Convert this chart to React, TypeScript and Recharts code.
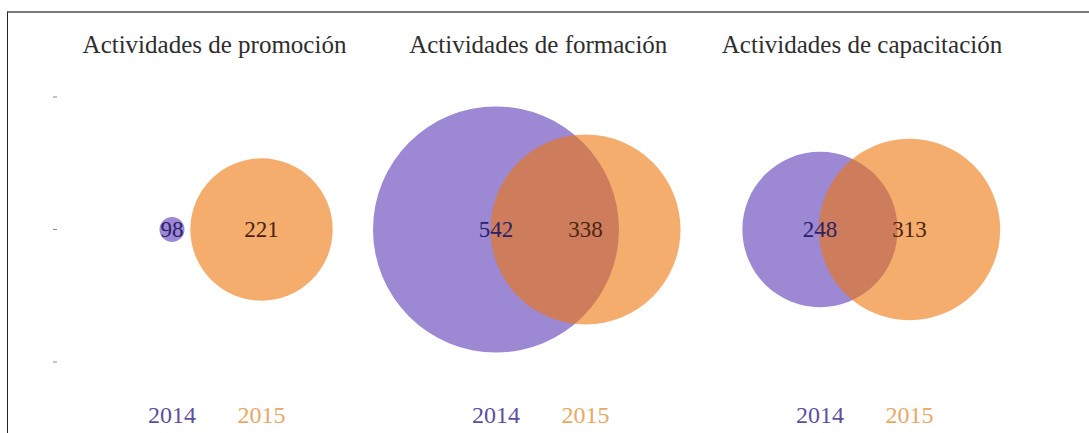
import React from 'react';
import { ScatterChart, Scatter, XAxis, YAxis, ZAxis, Cell, LabelList } from 'recharts';

// datos del gráfico
const groups = ['Actividades de promoción', 'Actividades de formación', 'Actividades de capacitación'];
const years = ['2014', '2015'];
const values2014 = [98, 542, 248];
const values2015 = [221, 338, 313];
const frameTicks = [0, 1, 2];

const seriesValues = [values2014, values2015];
const allValues = [...values2014, ...values2015];
const zDomain = [Math.min(...allValues), Math.max(...allValues)];

// estilos
const FONT = '"Liberation Serif", "Times New Roman", serif';
const bubbleFill = ['#5a38b5', '#ee760e'];
const valueColor = ['#2b2168', '#4a2410'];
const yearColor = ['#5d4f9e', '#e9a866'];

const CHART_W = 400;
const CHART_H = 433;
const PANEL_STEP = 323.75;

// escala de potencia para el área de las burbujas
const makePowScale = (exponent: number, dom: number[] = [0, 1], rng: number[] = [0, 1]): any => {
  const scale: any = (v: number) => {
    const lo = dom[0] ** exponent;
    const t = (v ** exponent - lo) / (dom[1] ** exponent - lo);
    return rng[0] + t * (rng[1] - rng[0]);
  };
  scale.domain = (d?: number[]) => (d ? makePowScale(exponent, d, rng) : dom);
  scale.range = (r?: number[]) => (r ? makePowScale(exponent, dom, r) : rng);
  scale.copy = () => makePowScale(exponent, dom, rng);
  scale.ticks = () => dom;
  return scale;
};

const bubbleScale = makePowScale(0.72);

const renderValueLabel = (props: any) => {
  const { value, index } = props;
  const vb = props.viewBox || props;
  const cx = vb.x + vb.width / 2;
  const cy = vb.y + vb.height / 2;
  return (
    <text
      key={`v-${index}`}
      x={cx}
      y={cy}
      textAnchor="middle"
      dominantBaseline="central"
      fill={valueColor[index]}
      fontSize={23}
      fontFamily={FONT}
    >
      {value}
    </text>
  );
};

const renderYearTick = (props: any) => {
  const { x, y, payload } = props;
  const i = years.indexOf(String(payload.value));
  return (
    <text x={x} y={y} dy="0.71em" textAnchor="middle" fill={yearColor[i]} fontSize={24} fontFamily={FONT}>
      {payload.value}
    </text>
  );
};

const renderNoTick = () => <g />;

const Panel = ({ gi }: { gi: number }) => {
  const data = years.map((year, j) => ({ group: groups[gi], year, value: seriesValues[j][gi] }));

  return (
    <div style={{ position: 'absolute', left: gi * PANEL_STEP, top: 0, width: CHART_W, height: CHART_H }}>
      <div
        style={{
          position: 'absolute',
          left: 14.5,
          top: 30,
          width: 400,
          textAlign: 'center',
          fontFamily: FONT,
          fontSize: 25,
          lineHeight: '30px',
          color: '#2e2e2e',
          whiteSpace: 'nowrap',
          zIndex: 2,
        }}
      >
        {groups[gi]}
      </div>
      <ScatterChart width={CHART_W} height={CHART_H} margin={{ top: 97, right: 93.75, bottom: 0, left: 0 }}>
        <XAxis
          dataKey="year"
          type="category"
          allowDuplicatedCategory={false}
          padding={{ left: 70.25, right: 0 }}
          axisLine={false}
          tickLine={false}
          tickSize={0}
          tickMargin={44}
          height={71}
          interval={0}
          tick={renderYearTick}
        />
        <YAxis
          yAxisId="frame"
          type="number"
          domain={[0, 2]}
          allowDataOverflow
          ticks={frameTicks}
          width={57}
          tick={renderNoTick}
          tickSize={4}
          tickLine={gi === 0 ? { stroke: '#8a8a8a' } : false}
          axisLine={false}
        />
        <YAxis yAxisId="rows" type="category" dataKey="group" allowDuplicatedCategory={false} hide />
        <ZAxis dataKey="value" type="number" domain={zDomain} range={[491, 47529]} scale={bubbleScale} />
        <Scatter data={data} yAxisId="rows" shape="circle" isAnimationActive={false}>
          {data.map((d, j) => (
            <Cell key={d.year} fill={bubbleFill[j]} fillOpacity={0.6} />
          ))}
          <LabelList dataKey="value" content={renderValueLabel} />
        </Scatter>
      </ScatterChart>
    </div>
  );
};

const App = () => {
  return (
    <div style={{ position: 'absolute', left: 0, top: 0, width: 1089, height: 433, background: '#fff', overflow: 'hidden' }}>
      <div
        style={{
          position: 'absolute',
          left: 7,
          top: 11,
          right: -4,
          bottom: -10,
          borderTop: '2px solid #7b7b7b',
          borderLeft: '1px solid #222',
        }}
      />
      {groups.map((g, gi) => (
        <Panel key={g} gi={gi} />
      ))}
    </div>
  );
};

export default App;
